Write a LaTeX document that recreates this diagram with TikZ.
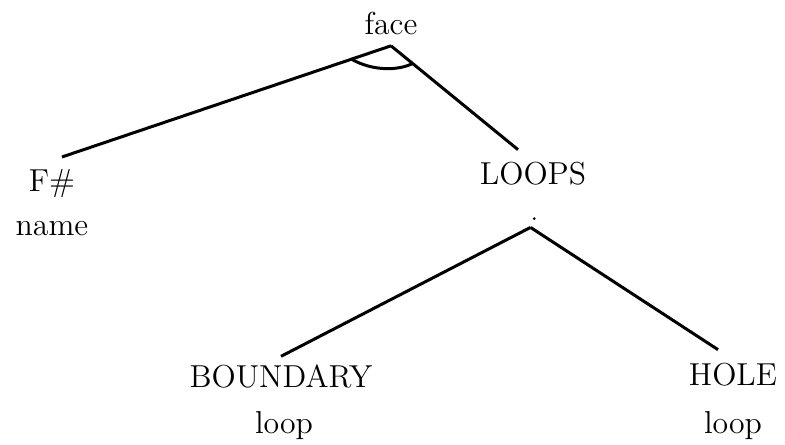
\documentclass[tikz,border=0pt]{standalone}
\usetikzlibrary{calc}

\begin{document}
\begin{tikzpicture}[
  x=0.4pt, y=-0.4pt,
  etiq/.style={font=\fontsize{12.7}{15}\selectfont, anchor=base, inner sep=4pt},
  rama/.style={line width=1.2pt}
]
\useasboundingbox (0,0) rectangle (785,445);
% raíz
\node[etiq] (face) at (391,35) {face};
% primer nivel
\node[etiq] (fnum) at (52,192) {F\#};
\node[etiq] (fname) at (52,235) {name};
\node[etiq] (loops) at (533,185) {LOOPS};
% segundo nivel
\node[etiq] (bnd) at (281,387) {BOUNDARY};
\node[etiq] (bndloop) at (284,433) {loop};
\node[etiq] (hole) at (733,385) {HOLE};
\node[etiq] (holeloop) at (733,433) {loop};
% punto de union bajo LOOPS
\coordinate (split) at ([xshift=-1pt,yshift=-12.5pt]loops.south);
% aristas face -> hijos
\draw[rama] (face.south) -- ([xshift=4pt,yshift=1pt]fnum.north);
\draw[rama] (face.south) -- ([xshift=-6pt,yshift=1pt]loops.north);
% arco del "y"
\draw[rama] ($(face.south)!0.12!([xshift=4pt,yshift=1pt]fnum.north)$)
  .. controls (372,71) and (398,71) ..
  ($(face.south)!0.17!([xshift=-6pt,yshift=1pt]loops.north)$);
% aristas LOOPS -> hijos
\fill ([xshift=1.5pt,yshift=3.5pt]split) circle (1.5);
\draw[rama] (split) -- ([yshift=-1pt]bnd.north);
\draw[rama] (split) -- ([xshift=-6pt,yshift=1pt]hole.north);
\end{tikzpicture}
\end{document}
